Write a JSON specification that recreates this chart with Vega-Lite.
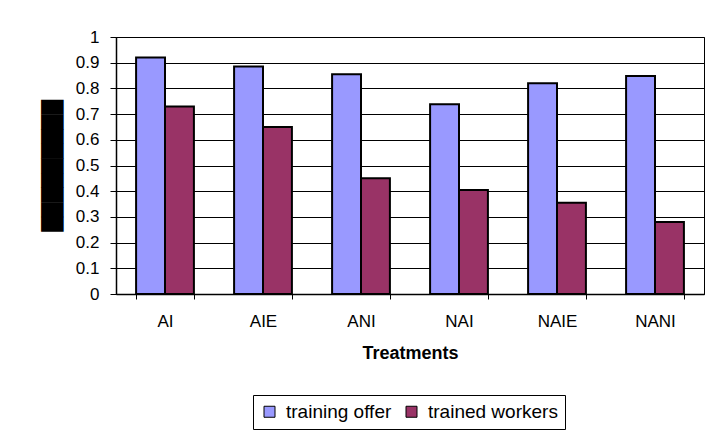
{
  "$schema": "https://vega.github.io/schema/vega-lite/v6.json",
  "width": 588,
  "height": 257,
  "autosize": {"type": "none"},
  "padding": {"left": 116, "top": 37, "right": 12, "bottom": 141},
  "background": "white",
  "data": {
    "values": [
      {"treatment": "AI", "series": "training offer", "value": 0.92},
      {"treatment": "AI", "series": "trained workers", "value": 0.73},
      {"treatment": "AIE", "series": "training offer", "value": 0.885},
      {"treatment": "AIE", "series": "trained workers", "value": 0.65},
      {"treatment": "ANI", "series": "training offer", "value": 0.855},
      {"treatment": "ANI", "series": "trained workers", "value": 0.45},
      {"treatment": "NAI", "series": "training offer", "value": 0.738},
      {"treatment": "NAI", "series": "trained workers", "value": 0.405},
      {"treatment": "NAIE", "series": "training offer", "value": 0.82},
      {"treatment": "NAIE", "series": "trained workers", "value": 0.355},
      {"treatment": "NANI", "series": "training offer", "value": 0.848},
      {"treatment": "NANI", "series": "trained workers", "value": 0.28}
    ]
  },
  "mark": {"type": "bar", "stroke": "black", "strokeWidth": 2},
  "encoding": {
    "x": {
      "field": "treatment",
      "type": "nominal",
      "sort": ["AI", "AIE", "ANI", "NAI", "NAIE", "NANI"],
      "scale": {"paddingInner": 0.41, "paddingOuter": 0.205},
      "axis": {
        "title": "Treatments",
        "labelAngle": 0,
        "labelFont": "Liberation Sans",
        "labelFontSize": 17,
        "labelColor": "black",
        "labelPadding": 14,
        "tickBand": "extent",
        "tickSize": 5,
        "tickColor": "black",
        "domainColor": "black",
        "domainWidth": 1.5,
        "titleFont": "Liberation Sans",
        "titleFontSize": 18,
        "titleFontWeight": "bold",
        "titleColor": "black",
        "titlePadding": 15
      }
    },
    "xOffset": {
      "field": "series",
      "type": "nominal",
      "sort": ["training offer", "trained workers"],
      "scale": {"paddingInner": 0, "paddingOuter": 0}
    },
    "y": {
      "field": "value",
      "type": "quantitative",
      "scale": {"domain": [0, 1], "nice": false},
      "axis": {
        "values": [0, 0.1, 0.2, 0.3, 0.4, 0.5, 0.6, 0.7, 0.8, 0.9, 1],
        "format": ".1~f",
        "grid": true,
        "gridColor": "black",
        "gridOpacity": 1,
        "gridWidth": 1,
        "labelFont": "Liberation Sans",
        "labelFontSize": 17,
        "labelColor": "black",
        "labelPadding": 11,
        "tickSize": 6,
        "tickColor": "black",
        "domainColor": "black",
        "domainWidth": 1.5,
        "title": "█████████",
        "titleFont": "DejaVu Sans",
        "titleFontSize": 19,
        "titleFontWeight": "normal",
        "titleColor": "black",
        "titlePadding": 13
      }
    },
    "color": {
      "field": "series",
      "type": "nominal",
      "sort": ["training offer", "trained workers"],
      "scale": {"domain": ["training offer", "trained workers"], "range": ["#9999FF", "#993366"]},
      "legend": {
        "title": null,
        "orient": "none",
        "legendX": 137,
        "legendY": 358,
        "direction": "horizontal",
        "symbolType": "square",
        "symbolSize": 121,
        "symbolStrokeColor": "black",
        "symbolStrokeWidth": 1,
        "symbolOpacity": 1,
        "labelFont": "Liberation Sans",
        "labelFontSize": 19,
        "labelColor": "black",
        "labelOffset": 7,
        "columnPadding": 10,
        "strokeColor": "black",
        "padding": 7
      }
    }
  },
  "config": {
    "view": {"stroke": "black", "strokeWidth": 1}
  }
}
